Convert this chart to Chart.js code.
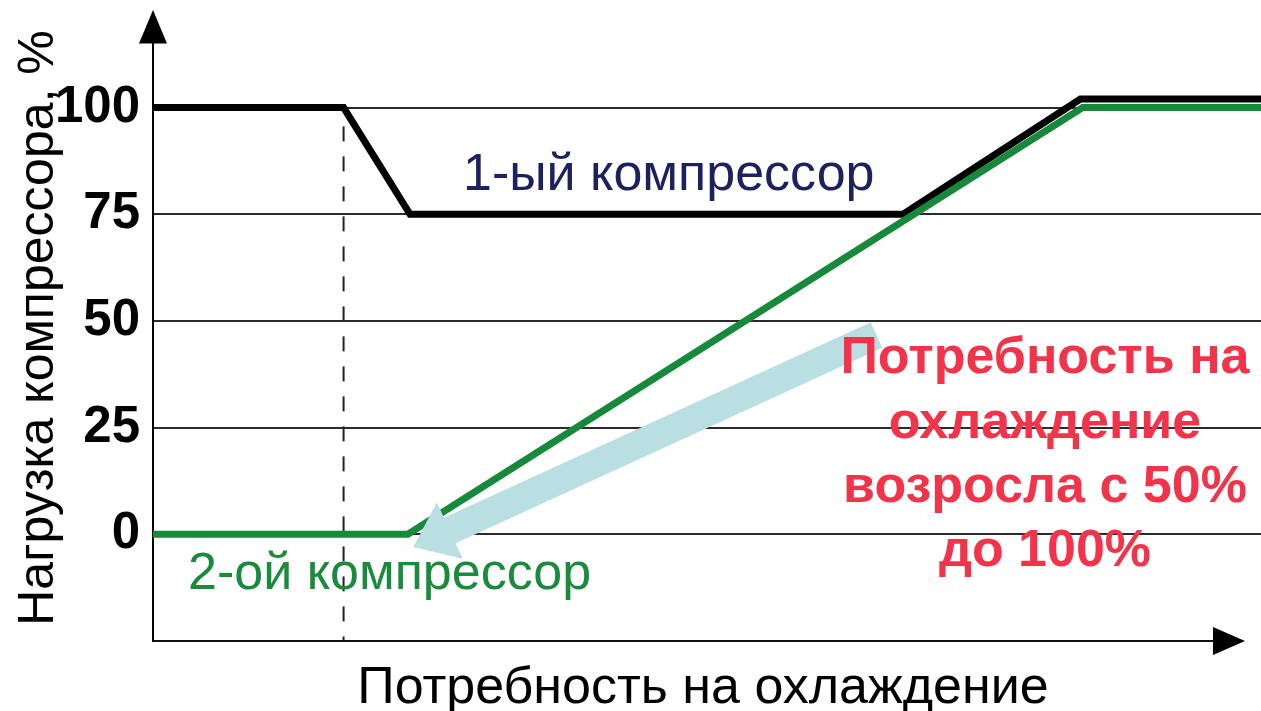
<!DOCTYPE html>
<html>
<head>
<meta charset="utf-8">
<script src="https://cdn.jsdelivr.net/npm/chart.js@4/dist/chart.umd.min.js"></script>
<style>
  html, body { margin: 0; padding: 0; background: #fff; }
  canvas { display: block; }
</style>
</head>
<body>
<canvas id="chart" width="1261" height="711"></canvas>
<script>
// Cooling demand (relative units, 0..100 across the axis) and compressor load, %
const firstCompressorDemand  = [0, 17.2, 23.2, 67.7, 83.7, 100];
const firstCompressorLoad    = [100, 100, 75, 75, 102, 102];
const secondCompressorDemand = [0, 23.0, 83.9, 100];
const secondCompressorLoad   = [0, 0, 100, 100];
// Demand level at which the second compressor is switched on
const switchDemand = [17.2, 17.2];
const switchLoad   = [95.6, -25];
const loadTicks = [0, 25, 50, 75, 100];
const seriesNames = ['1-ый компрессор', '2-ой компрессор'];
const xTitle = 'Потребность на охлаждение';
const yTitle = 'Нагрузка компрессора, %';
const noteLines = ['Потребность на', 'охлаждение', 'возросла с 50%', 'до 100%'];

const toPoints = (xs, ys) => xs.map((x, i) => ({ x, y: ys[i] }));

const FONT = '"Liberation Sans", Arial, Helvetica, sans-serif';

// Axis arrows, demand-shift arrow, series labels and axis titles
const overlay = {
  id: 'overlay',
  afterDatasetsDraw(chart) {
    const { ctx, chartArea: a, scales: { x, y } } = chart;
    ctx.save();

    // light-blue arrow: demand moving along the second compressor curve
    const tail = { x: x.getPixelForValue(65.3), y: y.getPixelForValue(46.7) };
    const tip  = { x: x.getPixelForValue(23.5), y: y.getPixelForValue(-3.0) };
    const dx = tip.x - tail.x, dy = tip.y - tail.y;
    const len = Math.hypot(dx, dy);
    const ux = dx / len, uy = dy / len, nx = -uy, ny = ux;
    const headLen = 40, headHalf = 31, shaftHalf = 14;
    const bx = tip.x - ux * headLen, by = tip.y - uy * headLen;
    ctx.fillStyle = '#b9dfe3';
    ctx.beginPath();
    ctx.moveTo(tail.x + nx * shaftHalf, tail.y + ny * shaftHalf);
    ctx.lineTo(bx + nx * shaftHalf, by + ny * shaftHalf);
    ctx.lineTo(bx + nx * headHalf, by + ny * headHalf);
    ctx.lineTo(tip.x, tip.y);
    ctx.lineTo(bx - nx * headHalf, by - ny * headHalf);
    ctx.lineTo(bx - nx * shaftHalf, by - ny * shaftHalf);
    ctx.lineTo(tail.x - nx * shaftHalf, tail.y - ny * shaftHalf);
    ctx.closePath();
    ctx.fill();

    // y axis arrow head
    ctx.fillStyle = '#000';
    ctx.beginPath();
    ctx.moveTo(a.left, 10);
    ctx.lineTo(a.left - 14, a.top);
    ctx.lineTo(a.left + 14, a.top);
    ctx.closePath();
    ctx.fill();

    // x axis line with arrow head
    const arrowStart = a.right - 48;
    ctx.strokeStyle = '#111';
    ctx.lineWidth = 2;
    ctx.beginPath();
    ctx.moveTo(a.left, a.bottom);
    ctx.lineTo(arrowStart, a.bottom);
    ctx.stroke();
    ctx.beginPath();
    ctx.moveTo(arrowStart, a.bottom - 14);
    ctx.lineTo(arrowStart + 32, a.bottom);
    ctx.lineTo(arrowStart, a.bottom + 14);
    ctx.closePath();
    ctx.fill();

    // series labels
    ctx.textBaseline = 'alphabetic';
    ctx.textAlign = 'left';
    ctx.font = '52px ' + FONT;
    ctx.fillStyle = '#1c2260';
    ctx.fillText(seriesNames[0], 463, 190);
    ctx.fillStyle = '#1a8a3c';
    ctx.fillText(seriesNames[1], 188, 589);

    // note in red
    ctx.textAlign = 'center';
    ctx.font = 'bold 52px ' + FONT;
    ctx.fillStyle = '#f2334a';
    const noteBase = [373, 438, 502, 566];
    noteLines.forEach((t, i) => ctx.fillText(t, 1045, noteBase[i]));

    // axis titles
    ctx.fillStyle = '#000';
    ctx.font = '52px ' + FONT;
    ctx.fillText(xTitle, 703, 703);
    ctx.save();
    ctx.translate(53, 328);
    ctx.rotate(-Math.PI / 2);
    ctx.font = '50px ' + FONT;
    ctx.fillText(yTitle, 0, 0);
    ctx.restore();

    ctx.restore();
  }
};

new Chart(document.getElementById('chart'), {
  type: 'line',
  data: {
    datasets: [
      {
        label: seriesNames[1],
        data: toPoints(secondCompressorDemand, secondCompressorLoad),
        borderColor: '#168a3a',
        borderWidth: 7,
        pointRadius: 0,
        tension: 0,
        order: 0
      },
      {
        label: seriesNames[0],
        data: toPoints(firstCompressorDemand, firstCompressorLoad),
        borderColor: '#000',
        borderWidth: 7,
        pointRadius: 0,
        tension: 0,
        order: 1
      },
      {
        label: 'switch',
        data: toPoints(switchDemand, switchLoad),
        borderColor: '#222',
        borderWidth: 2,
        borderDash: [15, 15],
        pointRadius: 0,
        order: 2
      }
    ]
  },
  options: {
    responsive: false,
    animation: false,
    events: [],
    layout: { padding: { top: 42, bottom: 70, left: 0, right: 0 } },
    plugins: {
      legend: { display: false },
      tooltip: { enabled: false },
      title: { display: false }
    },
    scales: {
      x: {
        type: 'linear',
        min: 0,
        max: 100,
        display: false
      },
      y: {
        type: 'linear',
        min: -25,
        max: 115,
        afterBuildTicks: (s) => { s.ticks = loadTicks.map(v => ({ value: v })); },
        afterFit: (s) => { s.width = 153; },
        ticks: {
          padding: 13,
          color: '#000',
          font: { family: FONT, size: 51, weight: 'bold' }
        },
        grid: {
          color: '#2b2b2b',
          lineWidth: 2,
          drawTicks: false
        },
        border: { display: true, color: '#000', width: 2 }
      }
    }
  },
  plugins: [overlay]
});
</script>
</body>
</html>
